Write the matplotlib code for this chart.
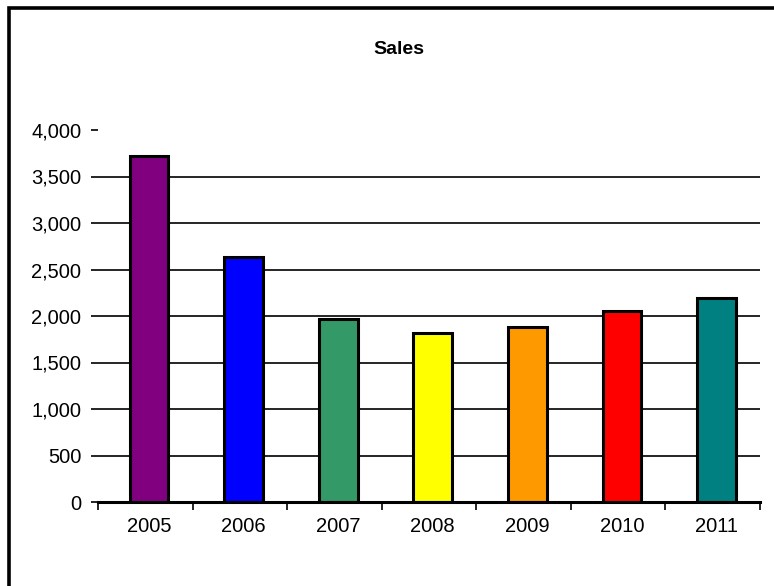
import numpy as np
import matplotlib.pyplot as plt
from matplotlib.patches import Rectangle


# =====================================
# Data
# =====================================

years = ['2005', '2006', '2007', '2008', '2009', '2010', '2011']

sales = [3720, 2635, 1968, 1817, 1882, 2054, 2196]

bar_colors = [
    '#800080',
    '#0000FF',
    '#339966',
    '#FFFF00',
    '#FF9900',
    '#FF0000',
    '#008080'
]

y_ticks = [0, 500, 1000, 1500, 2000, 2500, 3000, 3500, 4000]


# =====================================
# Figure
# =====================================

plt.rcParams['font.family'] = ['Liberation Sans', 'DejaVu Sans']

fig = plt.figure(figsize=(7.74, 5.86), dpi=100)

ax = fig.add_axes([98 / 774, 84 / 586, 662 / 774, 372 / 586])

x = np.arange(len(years))

ax.bar(
    x + 0.04,
    sales,
    width=0.41,
    color=bar_colors,
    edgecolor='black',
    linewidth=2.2,
    zorder=3
)

ax.set_xlim(-0.5, len(years) - 0.5)
ax.set_ylim(0, 4000)

ax.set_yticks(y_ticks)
ax.set_yticklabels([f"{v:,}" for v in y_ticks])

ax.yaxis.grid(True, color='black', linewidth=1.2, zorder=0)

# no gridline at the top value, only the tick dash
ax.yaxis.get_gridlines()[-1].set_visible(False)

# category boundaries as major ticks, labels on minor ticks
ax.set_xticks(np.arange(len(years) + 1) - 0.5)
ax.set_xticklabels([])
ax.set_xticks(x + 0.04, minor=True)
ax.set_xticklabels(years, minor=True)

ax.tick_params(axis='x', which='major', length=6, width=1.2, direction='out')
ax.tick_params(axis='x', which='minor', length=0, pad=11, labelsize=14.5)
ax.tick_params(axis='y', length=5, width=1.2, direction='out', pad=7,
               labelsize=14.5)

for side in ['top', 'right', 'left']:
    ax.spines[side].set_visible(False)

ax.spines['bottom'].set_linewidth(2.2)
ax.spines['bottom'].set_zorder(4)


# =====================================
# Title and frame
# =====================================

fig.text(
    399 / 774,
    1 - 50 / 586,
    "Sales",
    ha='center',
    va='center',
    fontsize=14,
    fontweight='bold'
)

fig.patches.append(
    Rectangle(
        (9 / 774, -0.05),
        1.2,
        1.05 - 8 / 586,
        transform=fig.transFigure,
        fill=False,
        edgecolor='black',
        linewidth=2.6
    )
)

fig.savefig("out.png", dpi=100)
